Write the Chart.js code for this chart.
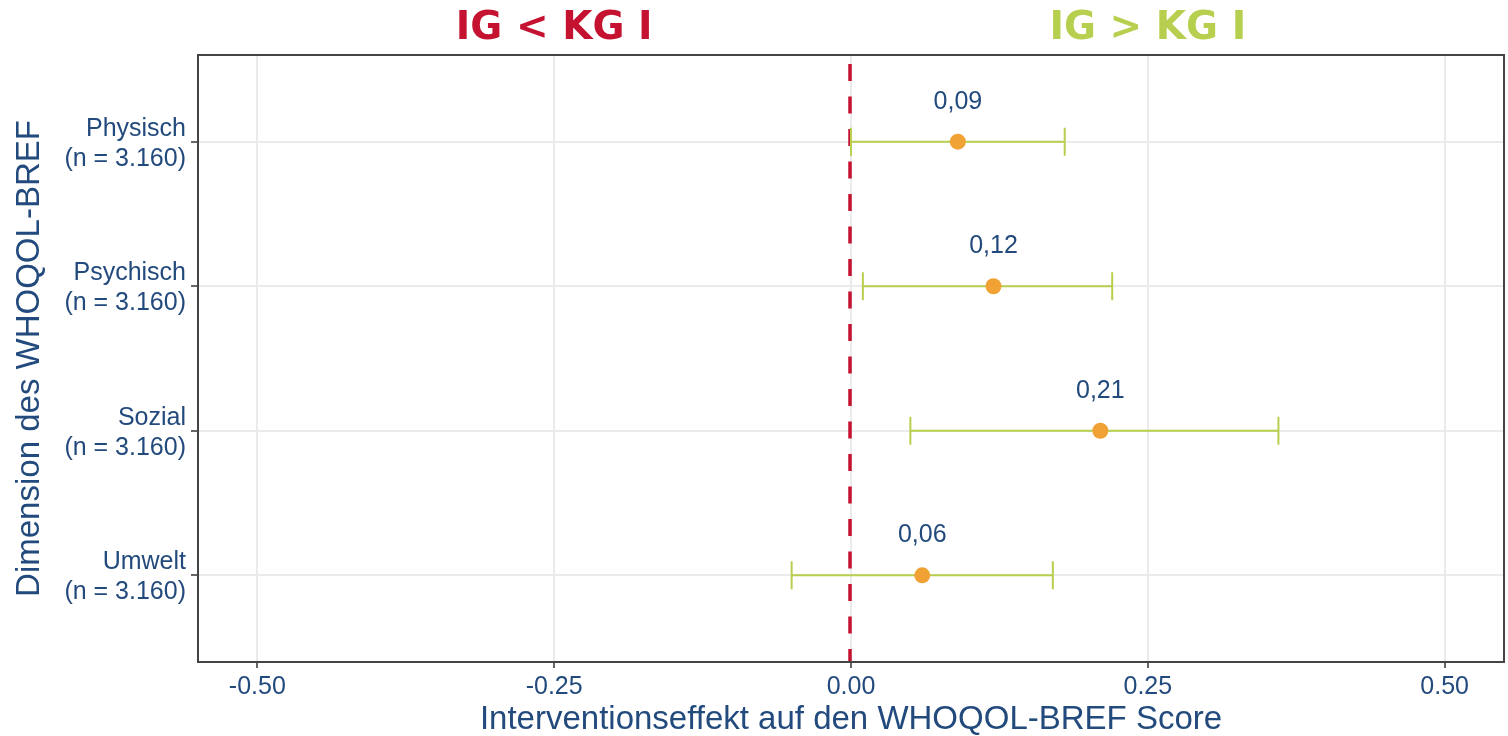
<!DOCTYPE html>
<html>
<head>
<meta charset="utf-8">
<script src="https://cdn.jsdelivr.net/npm/chart.js@4.4.1/dist/chart.umd.min.js"></script>
<style>
  html, body { margin: 0; padding: 0; background: #ffffff; }
  #wrap { width: 1508px; height: 736px; }
</style>
</head>
<body>
<div id="wrap"><canvas id="myChart" width="1508" height="736"></canvas></div>
<script>
// values
const dimensions = ["Physisch", "Psychisch", "Sozial", "Umwelt"];
const sampleSizes = ["n = 3.160", "n = 3.160", "n = 3.160", "n = 3.160"];
const estimates = [0.09, 0.12, 0.21, 0.06];
const ciLower = [0.00, 0.01, 0.05, -0.05];
const ciUpper = [0.18, 0.22, 0.36, 0.17];
const xTicks = [-0.5, -0.25, 0, 0.25, 0.5];
const sideLabels = ["IG < KG I", "IG > KG I"];

const textColor = "#234a7d";
const labelFont = "'Liberation Sans', Arial, sans-serif";

const forestPlugin = {
  id: "forest",
  beforeDatasetsDraw(chart) {
    const ctx = chart.ctx;
    const x = chart.scales.x;
    const y = chart.scales.y;
    const area = chart.chartArea;

    // dashed reference line at 0
    ctx.save();
    ctx.strokeStyle = "#c41230";
    ctx.lineWidth = 3.5;
    ctx.setLineDash([17, 15.5]);
    ctx.lineDashOffset = 23.5;
    const x0 = x.getPixelForValue(0) - 1;
    ctx.beginPath();
    ctx.moveTo(x0, area.top);
    ctx.lineTo(x0, area.bottom);
    ctx.stroke();
    ctx.restore();

    // confidence intervals
    ctx.save();
    ctx.strokeStyle = "#b7cf4e";
    ctx.lineWidth = 2;
    for (var i = 0; i < estimates.length; i++) {
      const py = y.getPixelForValue(i + 1);
      const xl = x.getPixelForValue(ciLower[i]);
      const xu = x.getPixelForValue(ciUpper[i]);
      ctx.beginPath();
      ctx.moveTo(xl, py);
      ctx.lineTo(xu, py);
      ctx.moveTo(xl, py - 14);
      ctx.lineTo(xl, py + 14);
      ctx.moveTo(xu, py - 14);
      ctx.lineTo(xu, py + 14);
      ctx.stroke();
    }
    ctx.restore();
  },
  afterDatasetsDraw(chart) {
    const ctx = chart.ctx;
    const x = chart.scales.x;
    const y = chart.scales.y;
    ctx.save();
    ctx.fillStyle = textColor;
    ctx.font = "25px " + labelFont;
    ctx.textAlign = "center";
    ctx.textBaseline = "middle";
    for (var i = 0; i < estimates.length; i++) {
      const txt = estimates[i].toFixed(2).replace(".", ",");
      ctx.fillText(txt, x.getPixelForValue(estimates[i]), y.getPixelForValue(i + 1) - 40);
    }
    ctx.restore();
  },
  afterDraw(chart) {
    const ctx = chart.ctx;
    const x = chart.scales.x;
    const area = chart.chartArea;

    // panel frame
    ctx.save();
    ctx.strokeStyle = "#444444";
    ctx.lineWidth = 2;
    ctx.strokeRect(area.left, area.top, area.right - area.left, area.bottom - area.top);
    ctx.restore();

    // direction labels above the panel
    ctx.save();
    ctx.font = "bold 39px 'DejaVu Sans', Verdana, sans-serif";
    ctx.textAlign = "center";
    ctx.textBaseline = "middle";
    ctx.fillStyle = "#c41230";
    ctx.fillText(sideLabels[0], x.getPixelForValue(-0.25), 29);
    ctx.fillStyle = "#b7cf4e";
    ctx.fillText(sideLabels[1], x.getPixelForValue(0.25), 29);
    ctx.restore();
  }
};

const ctx = document.getElementById("myChart");
const myChart = new Chart(ctx, {
  type: "scatter",
  data: {
    datasets: [
      {
        data: estimates.map((v, i) => ({ x: v, y: i + 1 })),
        backgroundColor: "#f0a234",
        borderWidth: 0,
        pointRadius: 8,
        pointHoverRadius: 8,
      },
    ],
  },
  options: {
    responsive: false,
    animation: false,
    events: [],
    layout: { autoPadding: false, padding: { top: 55, right: 4, bottom: 0, left: 0 } },
    plugins: {
      legend: { display: false },
      tooltip: { enabled: false },
    },
    scales: {
      x: {
        type: "linear",
        min: -0.55,
        max: 0.55,
        afterBuildTicks: (scale) => {
          scale.ticks = xTicks.map((v) => ({ value: v }));
        },
        afterFit: (scale) => {
          scale.height = 74;
        },
        border: { display: false },
        grid: {
          color: "#ebebeb",
          lineWidth: 2,
          tickColor: "#333333",
          tickLength: 6,
          tickWidth: 1.5,
        },
        ticks: {
          padding: 4,
          color: textColor,
          font: { family: labelFont, size: 25 },
          callback: (v) => Number(v).toFixed(2),
        },
        title: {
          display: true,
          text: "Interventionseffekt auf den WHOQOL-BREF Score",
          color: textColor,
          font: { family: labelFont, size: 33, lineHeight: 1 },
          padding: { top: 0, bottom: 0 },
        },
      },
      y: {
        type: "linear",
        min: 0.4,
        max: 4.6,
        reverse: true,
        afterBuildTicks: (scale) => {
          scale.ticks = dimensions.map((d, i) => ({ value: i + 1 }));
        },
        afterFit: (scale) => {
          scale.width = 198;
        },
        border: { display: false },
        grid: {
          color: "#ebebeb",
          lineWidth: 2,
          tickColor: "#333333",
          tickLength: 7,
          tickWidth: 1.5,
        },
        ticks: {
          padding: 5,
          labelOffset: 2,
          color: textColor,
          font: { family: labelFont, size: 25, lineHeight: 1.2 },
          callback: (v) => [dimensions[v - 1], "(" + sampleSizes[v - 1] + ")"],
        },
        title: {
          display: true,
          text: "Dimension des WHOQOL-BREF",
          color: textColor,
          font: { family: labelFont, size: 33, lineHeight: 1 },
          padding: { top: 13, bottom: 0 },
        },
      },
    },
  },
  plugins: [forestPlugin],
});
</script>
</body>
</html>
